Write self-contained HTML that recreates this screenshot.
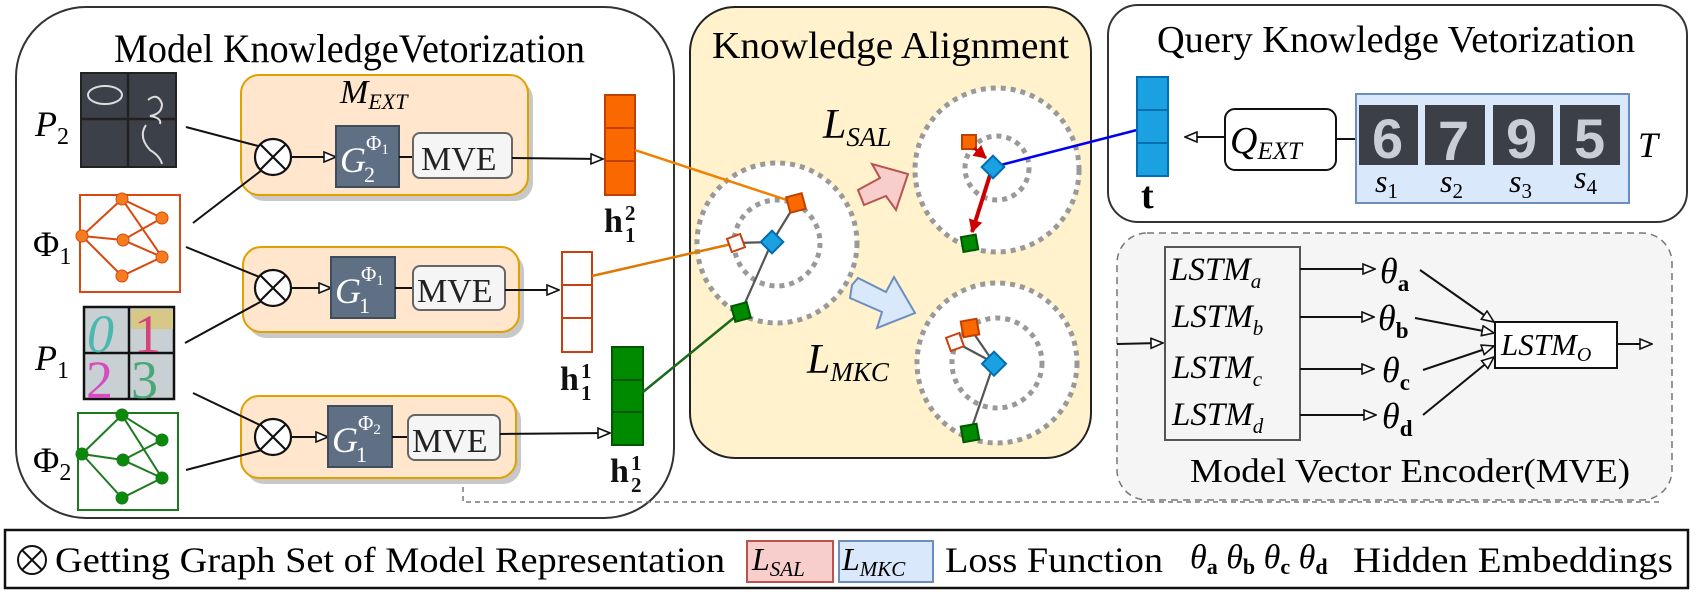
<!DOCTYPE html>
<html><head><meta charset="utf-8"><style>
html,body{margin:0;padding:0;background:#fff}
svg{display:block;font-family:"Liberation Serif",serif}
text{font-family:"Liberation Serif",serif}
.it{font-style:italic}
.sans{font-family:"Liberation Sans",sans-serif}
</style></head><body>
<svg width="1697" height="592" viewBox="0 0 1697 592" xmlns="http://www.w3.org/2000/svg" font-family="Liberation Serif, serif">
<defs>
<marker id="ah" markerWidth="14" markerHeight="12" refX="13" refY="6" orient="auto" markerUnits="userSpaceOnUse">
<path d="M1,1 L13,6 L1,11 Z" fill="#fff" stroke="#111" stroke-width="1.6"/></marker>
<marker id="rh" markerWidth="14" markerHeight="14" refX="12" refY="7" orient="auto" markerUnits="userSpaceOnUse">
<path d="M0,0 L13,7 L0,14 Z" fill="#c00"/></marker>
</defs>

<!-- Left panel -->
<rect x="16" y="7" width="658" height="511" rx="70" fill="#fff" stroke="#333" stroke-width="2"/>
<text x="114" y="62" font-size="40" textLength="471" lengthAdjust="spacingAndGlyphs">Model KnowledgeVetorization</text>

<!-- Center panel -->
<rect x="690" y="7" width="401" height="451" rx="45" fill="#fff2cc" stroke="#222" stroke-width="2"/>
<text x="712" y="58" font-size="38" textLength="357" lengthAdjust="spacingAndGlyphs">Knowledge Alignment</text>

<!-- Right top panel -->
<rect x="1108" y="5" width="579" height="217" rx="30" fill="#fff" stroke="#333" stroke-width="2"/>
<text x="1157" y="52" font-size="38" textLength="478" lengthAdjust="spacingAndGlyphs">Query Knowledge Vetorization</text>

<!-- MVE panel -->
<rect x="1117" y="233" width="555" height="267" rx="30" fill="#f5f5f5" stroke="#777" stroke-width="1.5" stroke-dasharray="7,5"/>
<text x="1190" y="482" font-size="34" textLength="440" lengthAdjust="spacingAndGlyphs">Model Vector Encoder(MVE)</text>

<!-- dashed connector -->
<path d="M463,460 L463,502 L1661,502" fill="none" stroke="#777" stroke-width="1.5" stroke-dasharray="5,4"/>

<!-- Left labels -->
<text class="it" x="35" y="136" font-size="36">P<tspan font-size="24" font-style="normal" dy="8">2</tspan></text>
<text x="33" y="256" font-size="36">Φ<tspan font-size="24" dy="8">1</tspan></text>
<text class="it" x="35" y="370" font-size="36">P<tspan font-size="24" font-style="normal" dy="8">1</tspan></text>
<text x="33" y="472" font-size="36">Φ<tspan font-size="24" dy="8">2</tspan></text>

<!-- P2 image -->
<g>
<rect x="81" y="73" width="95" height="94" fill="#3c4048" stroke="#222" stroke-width="2"/>
<line x1="128" y1="73" x2="128" y2="167" stroke="#222" stroke-width="2.5"/>
<line x1="81" y1="119" x2="176" y2="119" stroke="#222" stroke-width="2.5"/>
<ellipse cx="105" cy="95" rx="17" ry="9" fill="none" stroke="#ddd" stroke-width="2"/>
<path d="M148,100 q10,-8 14,4 q0,10 -12,12 q12,2 10,8" fill="none" stroke="#ddd" stroke-width="2"/>
<path d="M146,125 q-8,12 4,25 q10,6 12,14" fill="none" stroke="#ddd" stroke-width="2"/>
</g>
<!-- P1 image -->
<g>
<rect x="84" y="307" width="90" height="92" fill="#c9d0d4" stroke="#111" stroke-width="2.5"/>
<rect x="131" y="309" width="42" height="20" fill="#d8c888"/>
<line x1="129" y1="307" x2="129" y2="399" stroke="#111" stroke-width="2.5"/>
<line x1="84" y1="353" x2="174" y2="353" stroke="#111" stroke-width="2.5"/>
<text x="87" y="352" font-size="54" class="it" fill="#4bb8b0">0</text>
<text x="134" y="352" font-size="54" fill="#d4447a">1</text>
<text x="86" y="398" font-size="54" fill="#d44cc0">2</text>
<text x="131" y="398" font-size="54" fill="#4aa878">3</text>
</g>

<!-- Phi1 graph -->
<g stroke="#d9480f" stroke-width="2" fill="#f57c1f">
<rect x="80" y="195" width="100" height="97" fill="#fff"/>
<line x1="122" y1="199" x2="82" y2="236"/><line x1="122" y1="199" x2="162" y2="218"/>
<line x1="122" y1="199" x2="162" y2="257"/><line x1="82" y1="236" x2="123" y2="240"/>
<line x1="123" y1="240" x2="162" y2="218"/><line x1="123" y1="240" x2="162" y2="257"/>
<line x1="82" y1="236" x2="122" y2="276"/><line x1="122" y1="276" x2="162" y2="257"/>
<g stroke-width="1"><circle cx="122" cy="199" r="6"/><circle cx="162" cy="218" r="6"/><circle cx="82" cy="236" r="6"/><circle cx="123" cy="240" r="6"/><circle cx="162" cy="257" r="6"/><circle cx="122" cy="276" r="6"/></g>
</g>
<!-- Phi2 graph -->
<g stroke="#1e7a1e" stroke-width="2" fill="#0a8a0a">
<rect x="78" y="413" width="100" height="97" fill="#fff"/>
<line x1="122" y1="415" x2="82" y2="454"/><line x1="122" y1="415" x2="162" y2="440"/>
<line x1="122" y1="415" x2="162" y2="478"/><line x1="82" y1="454" x2="123" y2="460"/>
<line x1="123" y1="460" x2="162" y2="440"/><line x1="123" y1="460" x2="162" y2="478"/>
<line x1="82" y1="454" x2="122" y2="498"/><line x1="122" y1="498" x2="162" y2="478"/>
<g stroke-width="1"><circle cx="122" cy="415" r="6"/><circle cx="162" cy="440" r="6"/><circle cx="82" cy="454" r="6"/><circle cx="123" cy="460" r="6"/><circle cx="162" cy="478" r="6"/><circle cx="122" cy="498" r="6"/></g>
</g>

<!-- Orange boxes with shadow -->
<g>
<rect x="246" y="81" width="287" height="120" rx="18" fill="#c8c8c8"/>
<rect x="241" y="75" width="287" height="120" rx="18" fill="#ffe6cc" stroke="#e0a000" stroke-width="2"/>
<rect x="248" y="253" width="276" height="85" rx="18" fill="#c8c8c8"/>
<rect x="243" y="247" width="276" height="85" rx="18" fill="#ffe6cc" stroke="#e0a000" stroke-width="2"/>
<rect x="246" y="402" width="275" height="82" rx="18" fill="#c8c8c8"/>
<rect x="241" y="396" width="275" height="82" rx="18" fill="#ffe6cc" stroke="#e0a000" stroke-width="2"/>
</g>
<text class="it" x="340" y="103" font-size="34">M<tspan font-size="22" dy="6">EXT</tspan></text>

<!-- lines into otimes -->
<g stroke="#111" stroke-width="2">
<line x1="186" y1="127" x2="262" y2="147"/>
<line x1="193" y1="223" x2="262" y2="170"/>
<line x1="186" y1="247" x2="262" y2="278"/>
<line x1="185" y1="343" x2="262" y2="301"/>
<line x1="193" y1="393" x2="262" y2="426"/>
<line x1="186" y1="470" x2="262" y2="450"/>
</g>
<!-- otimes -->
<g fill="#fff" stroke="#111" stroke-width="2.2">
<circle cx="273" cy="157" r="18"/><path d="M260,144 L286,170 M286,144 L260,170"/>
<circle cx="273" cy="288" r="18"/><path d="M260,275 L286,301 M286,275 L260,301"/>
<circle cx="273" cy="437" r="18"/><path d="M260,424 L286,450 M286,424 L260,450"/>
</g>
<g stroke="#111" stroke-width="2" marker-end="url(#ah)">
<line x1="291" y1="157" x2="336" y2="157"/>
<line x1="291" y1="288" x2="331" y2="288"/>
<line x1="291" y1="437" x2="328" y2="437"/>
</g>
<!-- G boxes -->
<g fill="#5f7085" stroke="#3e4c5c" stroke-width="2">
<rect x="336" y="126" width="63" height="61"/>
<rect x="331" y="257" width="64" height="61"/>
<rect x="328" y="406" width="64" height="61"/>
</g>
<g fill="#fff">
<text x="340" y="172" font-size="36" class="it">G<tspan font-size="22" font-style="normal" dx="-2" dy="10">2</tspan></text>
<text x="366" y="150" font-size="21">Φ<tspan font-size="15" dy="4">1</tspan></text>
<text x="335" y="303" font-size="36" class="it">G<tspan font-size="22" font-style="normal" dx="-2" dy="10">1</tspan></text>
<text x="361" y="281" font-size="21">Φ<tspan font-size="15" dy="4">1</tspan></text>
<text x="332" y="452" font-size="36" class="it">G<tspan font-size="22" font-style="normal" dx="-2" dy="10">1</tspan></text>
<text x="358" y="430" font-size="21">Φ<tspan font-size="15" dy="4">2</tspan></text>
</g>
<g stroke="#111" stroke-width="2">
<line x1="399" y1="157" x2="413" y2="157"/><line x1="395" y1="288" x2="413" y2="288"/><line x1="392" y1="437" x2="408" y2="437"/>
</g>
<!-- MVE boxes -->
<g fill="#f5f5f5" stroke="#666" stroke-width="2">
<rect x="413" y="133" width="99" height="45" rx="7"/>
<rect x="413" y="266" width="92" height="44" rx="7"/>
<rect x="408" y="415" width="92" height="45" rx="7"/>
</g>
<g font-size="34" fill="#222">
<text x="421" y="170">MVE</text><text x="417" y="302">MVE</text><text x="412" y="452">MVE</text>
</g>
<g stroke="#111" stroke-width="2" marker-end="url(#ah)">
<line x1="512" y1="158" x2="603" y2="159"/>
<line x1="505" y1="290" x2="559" y2="290"/>
<line x1="500" y1="434" x2="610" y2="433"/>
</g>

<!-- h vectors -->
<g stroke="#c04000" stroke-width="2" fill="#fa6800">
<rect x="605" y="95" width="30" height="33"/><rect x="605" y="128" width="30" height="33"/><rect x="605" y="161" width="30" height="34"/>
</g>
<g stroke="#c94010" stroke-width="2" fill="#fff">
<rect x="562" y="252" width="30" height="33"/><rect x="562" y="285" width="30" height="33"/><rect x="562" y="318" width="30" height="34"/>
</g>
<g stroke="#005700" stroke-width="2" fill="#008a00">
<rect x="612" y="347" width="31" height="33"/><rect x="612" y="380" width="31" height="32"/><rect x="612" y="412" width="31" height="33"/>
</g>
<g font-weight="bold" font-size="34" fill="#111">
<text x="604" y="232">h<tspan font-size="21" x="625" dy="-12">2</tspan><tspan font-size="21" x="625" dy="22">1</tspan></text>
<text x="560" y="390">h<tspan font-size="21" x="581" dy="-12">1</tspan><tspan font-size="21" x="581" dy="22">1</tspan></text>
<text x="610" y="482">h<tspan font-size="21" x="631" dy="-12">1</tspan><tspan font-size="21" x="631" dy="22">2</tspan></text>
</g>

<!-- circles -->
<g fill="#fff" stroke="#999" stroke-width="5" stroke-dasharray="5,5">
<circle cx="777" cy="243" r="80"/>
<circle cx="997" cy="170" r="82"/>
<circle cx="997" cy="363" r="80"/>
</g>
<g fill="none" stroke="#999" stroke-width="5" stroke-dasharray="5,5">
<circle cx="777" cy="243" r="43"/>
<circle cx="997" cy="168" r="32"/>
<circle cx="997" cy="363" r="45"/>
</g>

<!-- connection lines -->
<line x1="635" y1="150" x2="796" y2="203" stroke="#f08000" stroke-width="2.5"/>
<line x1="592" y1="276" x2="736" y2="243" stroke="#e07800" stroke-width="2.5"/>
<line x1="643" y1="392" x2="741" y2="312" stroke="#1a6a1a" stroke-width="2.5"/>
<line x1="1137" y1="130" x2="993" y2="167" stroke="#0000ee" stroke-width="2.5"/>

<!-- node graph -->
<g stroke="#555" stroke-width="2.2">
<line x1="772" y1="242" x2="796" y2="203"/><line x1="772" y1="242" x2="736" y2="243"/><line x1="772" y1="242" x2="741" y2="312"/>
<line x1="994" y1="363" x2="970" y2="328"/><line x1="994" y1="363" x2="955" y2="342"/><line x1="994" y1="363" x2="970" y2="433"/>
</g>
<g stroke-width="2">
<rect x="788" y="195" width="16" height="16" fill="#fa6800" stroke="#c04000" transform="rotate(-15 796 203)"/>
<rect x="729" y="236" width="14" height="14" fill="#fff" stroke="#c94010" transform="rotate(-20 736 243)"/>
<rect x="764" y="234" width="16" height="16" fill="#1ba1e2" stroke="#006eaf" transform="rotate(45 772 242)"/>
<rect x="733" y="304" width="16" height="16" fill="#008a00" stroke="#005700" transform="rotate(-15 741 312)"/>
<rect x="962" y="135" width="14" height="14" fill="#fa6800" stroke="#c04000"/>
<rect x="962" y="236" width="15" height="15" fill="#008a00" stroke="#005700" transform="rotate(-10 968 243)"/>
<rect x="962" y="320" width="16" height="16" fill="#fa6800" stroke="#c04000" transform="rotate(-10 970 328)"/>
<rect x="948" y="335" width="14" height="14" fill="#fff" stroke="#c94010" transform="rotate(-20 955 342)"/>
<rect x="962" y="425" width="16" height="16" fill="#008a00" stroke="#005700" transform="rotate(-10 970 433)"/>
<rect x="986" y="355" width="17" height="17" fill="#1ba1e2" stroke="#006eaf" transform="rotate(45 994 363)"/>
</g>
<line x1="974" y1="148" x2="986" y2="158" stroke="#c00" stroke-width="3" marker-end="url(#rh)"/>
<line x1="990" y1="175" x2="972" y2="232" stroke="#c00" stroke-width="4" marker-end="url(#rh)"/>
<rect x="985" y="159" width="16" height="16" fill="#1ba1e2" stroke="#006eaf" stroke-width="2" transform="rotate(45 993 167)"/>

<!-- big arrows -->
<path d="M858,190 L880,178 L872,164 L908,174 L896,210 L886,196 L864,205 Z" fill="#f8cecc" stroke="#b85450" stroke-width="2"/>
<path d="M852,285 L858,278 L886,292 L894,277 L915,313 L877,328 L882,312 L850,298 Z" fill="#dae8fc" stroke="#6c8ebf" stroke-width="2"/>

<text class="it" x="823" y="138" font-size="42">L<tspan font-size="27" dy="8">SAL</tspan></text>
<text class="it" x="807" y="373" font-size="42">L<tspan font-size="27" dy="8">MKC</tspan></text>

<!-- Query -->
<g stroke="#006eaf" stroke-width="2" fill="#1ba1e2">
<rect x="1137" y="77" width="31" height="33"/><rect x="1137" y="110" width="31" height="33"/><rect x="1137" y="143" width="31" height="33"/>
</g>
<text x="1141" y="208" font-size="38" font-weight="bold">t</text>
<line x1="1225" y1="137" x2="1185" y2="137" stroke="#111" stroke-width="2" marker-end="url(#ah)"/>
<rect x="1225" y="109" width="111" height="61" rx="10" fill="#fff" stroke="#111" stroke-width="2"/>
<text class="it" x="1230" y="153" font-size="38">Q<tspan font-size="25" dy="6">EXT</tspan></text>
<line x1="1336" y1="139" x2="1359" y2="139" stroke="#111" stroke-width="2"/>
<rect x="1356" y="94" width="273" height="109" fill="#dae8fc" stroke="#6c8ebf" stroke-width="2"/>
<g fill="#3c3f45">
<rect x="1359" y="105" width="59" height="60"/><rect x="1425" y="105" width="60" height="60"/><rect x="1493" y="105" width="60" height="60"/><rect x="1560" y="105" width="60" height="60"/>
</g>
<g fill="#c8cdd6" font-size="56" font-weight="bold">
<text class="sans" x="1372" y="158" font-family="Liberation Sans, sans-serif">6</text>
<text class="sans" x="1438" y="160" font-family="Liberation Sans, sans-serif">7</text>
<text class="sans" x="1506" y="158" font-family="Liberation Sans, sans-serif">9</text>
<text class="sans" x="1574" y="158" font-family="Liberation Sans, sans-serif">5</text>
</g>
<g font-size="32">
<text x="1375" y="192" class="it">s<tspan font-size="21" font-style="normal" dy="6">1</tspan></text>
<text x="1440" y="192" class="it">s<tspan font-size="21" font-style="normal" dy="6">2</tspan></text>
<text x="1509" y="192" class="it">s<tspan font-size="21" font-style="normal" dy="6">3</tspan></text>
<text x="1574" y="188" class="it">s<tspan font-size="21" font-style="normal" dy="6">4</tspan></text>
</g>
<text class="it" x="1638" y="157" font-size="36">T</text>

<!-- MVE internals -->
<line x1="1117" y1="344" x2="1163" y2="343" stroke="#111" stroke-width="2" marker-end="url(#ah)"/>
<rect x="1165" y="247" width="135" height="193" fill="#f5f5f5" stroke="#555" stroke-width="2"/>
<g font-size="33">
<text x="1170" y="280" class="it">LSTM<tspan font-size="21" dy="8">a</tspan></text>
<text x="1172" y="327" class="it">LSTM<tspan font-size="21" dy="8">b</tspan></text>
<text x="1172" y="378" class="it">LSTM<tspan font-size="21" dy="8">c</tspan></text>
<text x="1172" y="425" class="it">LSTM<tspan font-size="21" dy="8">d</tspan></text>
</g>
<g stroke="#111" stroke-width="2" marker-end="url(#ah)">
<line x1="1300" y1="269" x2="1375" y2="269"/>
<line x1="1300" y1="317" x2="1374" y2="317"/>
<line x1="1300" y1="369" x2="1374" y2="369"/>
<line x1="1300" y1="415" x2="1376" y2="415"/>
<line x1="1420" y1="270" x2="1494" y2="322"/>
<line x1="1415" y1="318" x2="1494" y2="333"/>
<line x1="1423" y1="370" x2="1494" y2="346"/>
<line x1="1423" y1="415" x2="1494" y2="357"/>
<line x1="1617" y1="344" x2="1652" y2="344"/>
</g>
<g font-size="36">
<text class="it" x="1380" y="283">θ<tspan font-size="23" font-style="normal" font-weight="bold" dy="8">a</tspan></text>
<text class="it" x="1378" y="330">θ<tspan font-size="23" font-style="normal" font-weight="bold" dy="8">b</tspan></text>
<text class="it" x="1382" y="382">θ<tspan font-size="23" font-style="normal" font-weight="bold" dy="8">c</tspan></text>
<text class="it" x="1382" y="428">θ<tspan font-size="23" font-style="normal" font-weight="bold" dy="8">d</tspan></text>
</g>
<rect x="1495" y="322" width="122" height="46" fill="#fff" stroke="#111" stroke-width="2"/>
<text class="it" x="1501" y="355" font-size="31">LSTM<tspan font-size="20" dy="6">O</tspan></text>

<!-- Legend -->
<rect x="5" y="530" width="1683" height="58" fill="#fff" stroke="#111" stroke-width="2.5"/>
<g stroke="#111" stroke-width="2" fill="none">
<circle cx="32" cy="560" r="14"/><path d="M22,550 L42,570 M42,550 L22,570"/>
</g>
<text x="55" y="572" font-size="36" textLength="670" lengthAdjust="spacingAndGlyphs">Getting Graph Set of Model Representation</text>
<rect x="747" y="541" width="86" height="41" fill="#f8cecc" stroke="#b85450" stroke-width="2"/>
<text class="it" x="752" y="570" font-size="32">L<tspan font-size="21" dy="6">SAL</tspan></text>
<rect x="839" y="541" width="94" height="41" fill="#dae8fc" stroke="#6c8ebf" stroke-width="2"/>
<text class="it" x="842" y="570" font-size="32">L<tspan font-size="21" dy="6">MKC</tspan></text>
<text x="945" y="572" font-size="36" textLength="218" lengthAdjust="spacingAndGlyphs">Loss Function</text>
<text class="it" x="1190" y="568" font-size="34">θ<tspan font-size="22" font-style="normal" font-weight="bold" dy="6">a</tspan><tspan dy="-6"> θ</tspan><tspan font-size="22" font-style="normal" font-weight="bold" dy="6">b</tspan><tspan dy="-6"> θ</tspan><tspan font-size="22" font-style="normal" font-weight="bold" dy="6">c</tspan><tspan dy="-6"> θ</tspan><tspan font-size="22" font-style="normal" font-weight="bold" dy="6">d</tspan></text>
<text x="1353" y="572" font-size="36" textLength="320" lengthAdjust="spacingAndGlyphs">Hidden Embeddings</text>
</svg>
</body></html>
